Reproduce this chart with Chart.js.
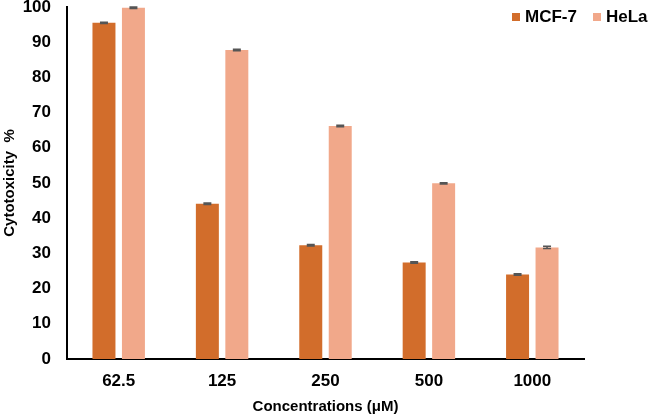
<!DOCTYPE html>
<html>
<head>
<meta charset="utf-8">
<script src="https://cdn.jsdelivr.net/npm/chart.js@4.4.1/dist/chart.umd.min.js"></script>
<style>
body{margin:0;background:#fff;}
#caja{position:relative;width:666px;height:417px;}
#leyenda{position:absolute;top:7px;left:512px;display:flex;align-items:center;font:bold 17px "Liberation Sans",Arial,sans-serif;color:#000;}
#leyenda span.cuadro{display:inline-block;width:8px;height:8px;margin-right:5px;}
#leyenda span.item{display:flex;align-items:center;margin-right:16px;}
</style>
</head>
<body>
<div id="caja">
  <canvas id="grafico"></canvas>
  <div id="leyenda"></div>
</div>
<script>
//datos del gráfico
const concentraciones = ["62.5", "125", "250", "500", "1000"];
const mcf7 = [95.5, 44.1, 32.3, 27.4, 24.0];
const hela = [99.8, 87.8, 66.2, 49.9, 31.7];
const errMcf7 = [0.2, 0.2, 0.2, 0.2, 0.2];
const errHela = [0.2, 0.2, 0.2, 0.2, 0.3];
const series = ["MCF-7", "HeLa"];
const colores = ["#d26d2b", "#f1a88a"];
const fuente = "'Liberation Sans', Arial, sans-serif";

//barras de error pequeñas
const barrasError = {
    id: "barrasError",
    afterDatasetsDraw(chart) {
        const ctx = chart.ctx;
        const y = chart.scales.y;
        const errores = [errMcf7, errHela];
        ctx.save();
        ctx.strokeStyle = "#555";
        ctx.lineWidth = 1.5;
        chart.data.datasets.forEach((ds, i) => {
            chart.getDatasetMeta(i).data.forEach((barra, j) => {
                const v = ds.data[j];
                const e = errores[i][j];
                const yArriba = y.getPixelForValue(v + e);
                const yAbajo = y.getPixelForValue(v - e);
                ctx.beginPath();
                ctx.moveTo(barra.x, yArriba); ctx.lineTo(barra.x, yAbajo);
                ctx.moveTo(barra.x - 4, yArriba); ctx.lineTo(barra.x + 4, yArriba);
                ctx.moveTo(barra.x - 4, yAbajo); ctx.lineTo(barra.x + 4, yAbajo);
                ctx.stroke();
            });
        });
        ctx.restore();
    }
};

const grafico = new Chart(document.getElementById("grafico"), {
    type: "bar",
    data: {
        labels: concentraciones,
        datasets: [
            {label: series[0], data: mcf7, backgroundColor: colores[0]},
            {label: series[1], data: hela, backgroundColor: colores[1]}
        ]
    },
    options: {
        responsive: true,
        maintainAspectRatio: false,
        animation: false,
        categoryPercentage: 0.57,
        barPercentage: 0.78,
        layout: {padding: {left: 0, top: 7, right: 82, bottom: 0}},
        plugins: {
            legend: {display: false},
            tooltip: {enabled: false}
        },
        scales: {
            x: {
                grid: {display: false, drawTicks: false},
                border: {color: "#000", width: 2},
                ticks: {color: "#000", padding: 12, font: {family: fuente, size: 17, weight: "bold"}},
                title: {display: true, text: "Concentrations (μM)", color: "#000", padding: {top: 0, bottom: 1}, font: {family: fuente, size: 15, weight: "bold"}},
                afterFit: (escala) => { escala.height = 58; }
            },
            y: {
                min: 0,
                max: 100,
                grid: {display: false, drawTicks: false},
                border: {color: "#000", width: 2},
                ticks: {stepSize: 10, color: "#000", padding: 16, font: {family: fuente, size: 17, weight: "bold"}},
                title: {display: true, text: "Cytotoxicity  %", color: "#000", padding: {top: 1, bottom: 0}, font: {family: fuente, size: 15, weight: "bold"}},
                afterFit: (escala) => { escala.width = 67; escala.paddingTop = 0; escala.paddingBottom = 0; }
            }
        }
    },
    plugins: [barrasError]
});

//leyenda en html
const leyenda = document.getElementById("leyenda");
series.forEach((nombre, i) => {
    const item = document.createElement("span");
    item.className = "item";
    item.innerHTML = '<span class="cuadro" style="background:' + colores[i] + '"></span>' + nombre;
    leyenda.appendChild(item);
});
</script>
</body>
</html>
